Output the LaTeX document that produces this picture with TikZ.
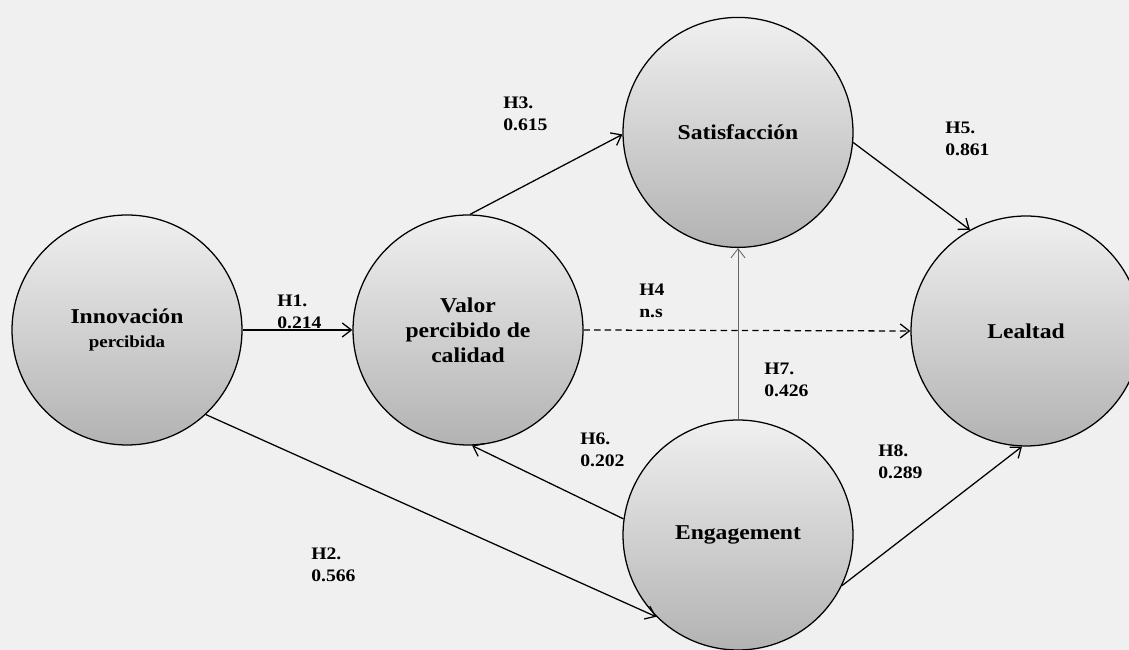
\documentclass[tikz,border=0pt]{standalone}
\usepackage{fontspec}
\setmainfont{Liberation Serif}[FakeStretch=1.12]
\usetikzlibrary{arrows.meta}
\definecolor{fondo}{RGB}{240,240,240}
\tikzset{
  constructo/.style={circle, draw, line width=0.9pt, minimum size=5.75cm, inner sep=0pt,
    top color=black!6, bottom color=black!30, align=center,
    font=\fontsize{15}{17.7}\selectfont\bfseries},
  hipotesis/.style={anchor=north west, inner sep=0pt, align=left,
    font=\fontsize{12.5}{15.6}\selectfont\bfseries},
  flecha/.style={line width=0.9pt, -{Straight Barb[length=6.5pt,width=10pt]}}
}

\begin{document}
\begin{tikzpicture}
			%%%%% START %%%%%
			
			\fill[fondo] (0, 0) rectangle (28.225, 16.25);
			\useasboundingbox (0, 0) rectangle (28.225, 16.25);
			
			\node[constructo] (innov) at (3.175, 8) {Innovación\\{\fontsize{12}{14}\selectfont percibida}};
			\node[constructo] (valor) at (11.7, 8) {Valor\\percibido de\\calidad};
			\node[constructo] (satis) at (18.45, 12.94) {Satisfacción};
			\node[constructo] (leal) at (25.65, 7.975) {Lealtad};
			\node[constructo] (engage) at (18.45, 2.875) {Engagement};
			
			\draw[flecha] (innov.east) -- (valor.west);
			\draw[flecha] (innov.-47.6) -- (engage.-135.4);
			\draw[flecha] (valor.89) -- (satis.181);
			\draw[flecha, dash pattern=on 4.5pt off 3pt] (valor.east) -- (leal.west);
			\draw[flecha] (satis.-5.5) -- (leal.119.5);
			\draw[flecha] (engage.172) -- (valor.-88);
			\draw[flecha, line width=0.6pt, color=black!60] (engage.north) -- (satis.south);
			\draw[flecha] (engage.-26) -- (leal.-92);
			
			\node[hipotesis] (h1) at (6.925, 8.875) {H1.\\0.214};
			\node[hipotesis] (h2) at (7.775, 2.55) {H2.\\0.566};
			\node[hipotesis] (h3) at (12.575, 13.825) {H3.\\0.615};
			\node[hipotesis] (h4) at (15.975, 9.15) {H4\\n.s};
			\node[hipotesis] (h5) at (23.625, 13.2) {H5.\\0.861};
			\node[hipotesis] (h6) at (14.5, 5.425) {H6.\\0.202};
			\node[hipotesis] (h7) at (19.1, 7.175) {H7.\\0.426};
			\node[hipotesis] (h8) at (21.95, 5.125) {H8.\\0.289};
			
			%%%%% END %%%%%
\end{tikzpicture}
\end{document}
